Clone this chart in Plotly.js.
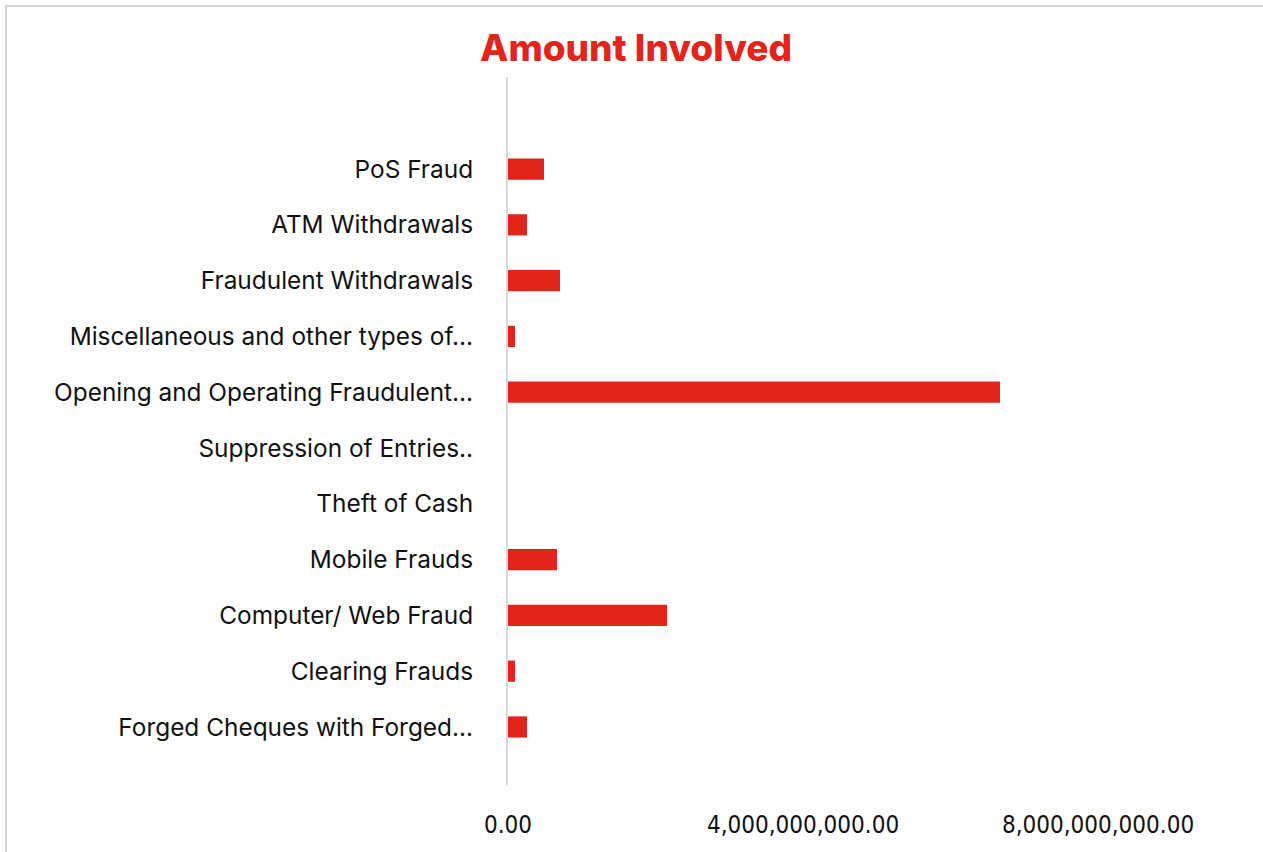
<!DOCTYPE html>
<html>
<head>
<meta charset="utf-8">
<script src="https://cdn.plot.ly/plotly-3.0.1.min.js"></script>
<style>
  html, body { margin: 0; padding: 0; background: #ffffff; }
  #chart { position: absolute; left: 0; top: 0; width: 1263px; height: 852px; }
  #frame { position: absolute; left: 5px; top: 5px; width: 1258px; height: 847px;
           border-top: 2px solid #d4d4d4; border-left: 2px solid #d4d4d4; pointer-events: none; box-sizing: border-box; }
</style>
</head>
<body>
<div id="chart"></div>
<div id="frame"></div>
<script>
// Categories, top to bottom as shown
const categories = [
  "PoS Fraud",
  "ATM Withdrawals",
  "Fraudulent Withdrawals",
  "Miscellaneous and other types of...",
  "Opening and Operating Fraudulent...",
  "Suppression of Entries..",
  "Theft of Cash",
  "Mobile Frauds",
  "Computer/ Web Fraud",
  "Clearing Frauds",
  "Forged Cheques with Forged..."
];
// Amount involved
const amounts = [
  488000000,
  258000000,
  705000000,
  95000000,
  6671000000,
  0,
  0,
  664000000,
  2156000000,
  95000000,
  258000000
];
const xTickValues = [0, 4000000000, 8000000000];

const trace = {
  type: "bar",
  orientation: "h",
  y: categories,
  x: amounts,
  marker: { color: "#E1251B" },
  hoverinfo: "x+y"
};

const layout = {
  width: 1263,
  height: 852,
  paper_bgcolor: "rgba(0,0,0,0)",
  plot_bgcolor: "rgba(0,0,0,0)",
  margin: { l: 508, r: 63, t: 77, b: 67, pad: 0 },
  showlegend: false,
  bargap: 0.62,
  title: {
    text: "Amount Involved",
    font: { family: "Inter, 'Noto Sans', sans-serif", size: 37, color: "#E1251B", weight: 800 },
    x: 0.5036, xanchor: "center",
    y: 0.944, yanchor: "middle"
  },
  xaxis: {
    range: [0, 9383000000],
    tickvals: xTickValues,
    tickformat: ",.2f",
    showgrid: false,
    zeroline: false,
    showline: false,
    ticks: "",
    ticklabelstandoff: 23,
    tickfont: { family: "'DejaVu Sans Condensed', 'Liberation Sans Narrow', sans-serif", size: 24, color: "#111111" },
    fixedrange: true
  },
  yaxis: {
    type: "category",
    categoryorder: "array",
    categoryarray: categories,
    range: [11.04, -1.65],
    showgrid: false,
    zeroline: false,
    showline: true,
    linecolor: "#d9d9d9",
    linewidth: 2,
    ticks: "",
    ticklabelstandoff: 28,
    tickfont: { family: "Inter, 'Noto Sans', sans-serif", size: 24.4, color: "#111111" },
    fixedrange: true
  }
};

Plotly.newPlot("chart", [trace], layout, { displayModeBar: false, staticPlot: true });
</script>
</body>
</html>
